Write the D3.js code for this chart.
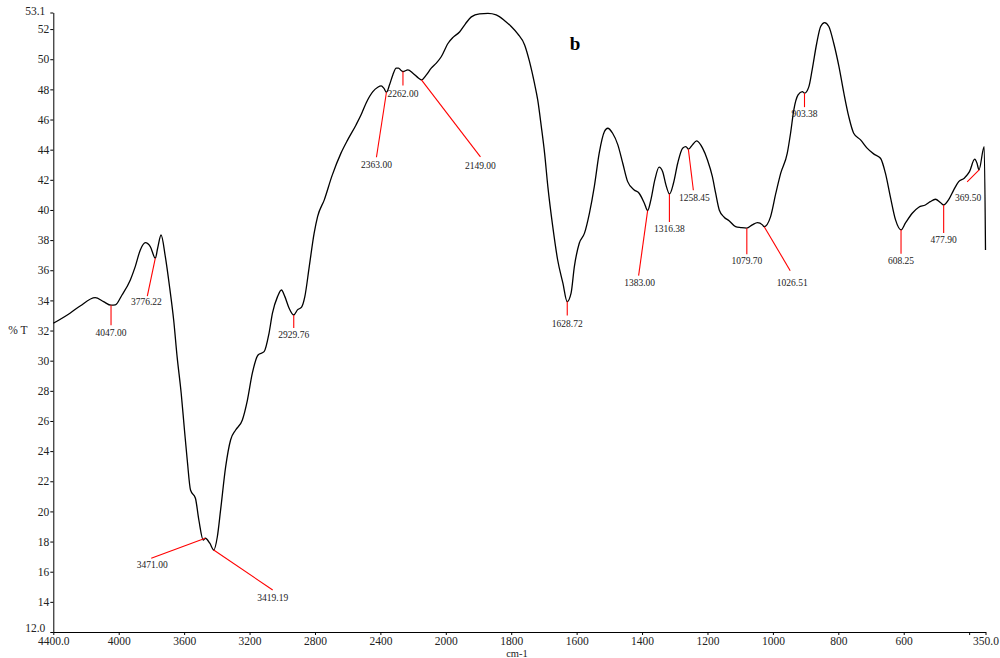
<!DOCTYPE html>
<html>
<head>
<meta charset="utf-8">
<script src="https://cdn.jsdelivr.net/npm/d3@7"></script>
<style>
  body { margin: 0; background: #fff; }
  svg { display: block; font-family: "Liberation Serif", "Times New Roman", serif; }
  .axis path, .axis line { stroke: #000; stroke-width: 1; }
  .axis text { font-size: 11.5px; fill: #222; font-family: "Liberation Serif", serif; }
  .spectrum { fill: none; stroke: #000; stroke-width: 1.3; }
  .peak-line { stroke: #f00; stroke-width: 1.1; }
  .peak-label { font-size: 9.5px; fill: #222; text-anchor: middle; dominant-baseline: central; }
</style>
</head>
<body>
<div id="chart"></div>
<script>
// spectrum (cm-1, %T)
const wavenumber = [
  4400, 4298, 4236, 4144, 4093, 4047, 4021, 3980, 3929, 3899,
  3868, 3837, 3807, 3776, 3762, 3741, 3715, 3688, 3664, 3643,
  3618, 3598, 3581, 3561, 3531, 3510, 3483, 3471, 3443, 3419,
  3397, 3377, 3346, 3316, 3285, 3244, 3213, 3183, 3148, 3111,
  3081, 3060, 3029, 3005, 2984, 2958, 2930, 2907, 2882, 2862,
  2835, 2805, 2784, 2743, 2696, 2641, 2600, 2549, 2518, 2487,
  2446, 2416, 2395, 2379, 2363, 2344, 2324, 2303, 2289, 2273,
  2262, 2232, 2201, 2166, 2149, 2119, 2089, 2058, 2027, 1993,
  1978, 1958, 1940, 1922, 1897, 1871, 1846, 1820, 1800, 1780,
  1759, 1744, 1729, 1719, 1708, 1698, 1688, 1673, 1658, 1642,
  1629, 1617, 1607, 1592, 1576, 1561, 1546, 1531, 1515, 1505,
  1490, 1474, 1459, 1444, 1424, 1409, 1393, 1383, 1373, 1361,
  1348, 1337, 1327, 1316, 1304, 1291, 1276, 1266, 1258, 1246,
  1233, 1215, 1200, 1185, 1175, 1164, 1149, 1134, 1114, 1098,
  1080, 1063, 1047, 1032, 1027, 1007, 991, 976, 956, 946,
  936, 923, 910, 903, 890, 880, 866, 854, 842, 829,
  814, 798, 783, 768, 753, 732, 712, 692, 671, 656,
  641, 625, 608, 595, 574, 554, 534, 519, 503, 488,
  478, 463, 447, 432, 415, 399, 383, 376, 370, 354,
  350
];
const transmittance = [
  32.48, 33.15, 33.63, 34.18, 33.92, 33.68, 33.70, 34.36, 35.36, 36.24,
  37.35, 37.83, 37.57, 36.80, 37.46, 38.34, 36.90, 34.81, 32.70, 30.27,
  27.84, 25.40, 23.41, 21.42, 20.87, 19.43, 18.10, 18.22, 17.89, 17.44,
  18.32, 20.10, 22.97, 24.74, 25.40, 26.07, 27.39, 29.17, 30.38, 30.60,
  31.82, 33.15, 34.25, 34.69, 34.25, 33.48, 33.03, 33.37, 33.55, 34.25,
  36.24, 38.46, 39.56, 40.67, 42.26, 43.77, 44.65, 45.64, 46.31, 47.10,
  47.85, 48.14, 48.23, 48.08, 47.81, 48.30, 48.96, 49.41, 49.41, 49.25,
  49.18, 49.29, 49.07, 48.74, 48.63, 48.96, 49.41, 49.74, 50.18, 51.06,
  51.45, 51.81, 52.35, 52.81, 53.01, 53.04, 52.94, 52.56, 52.17, 51.68,
  50.95, 49.84, 48.41, 47.30, 45.53, 43.77, 41.55, 38.89, 36.68, 35.14,
  33.92, 34.48, 36.24, 37.79, 38.46, 39.78, 41.55, 43.77, 45.20, 45.42,
  45.09, 44.32, 43.10, 41.88, 41.33, 41.11, 40.45, 39.96, 40.67, 41.99,
  42.84, 42.54, 41.66, 41.06, 41.77, 43.10, 44.10, 44.20, 44.03, 44.32,
  44.58, 44.10, 43.32, 42.21, 41.11, 40.00, 39.52, 39.29, 38.89, 38.83,
  38.79, 39.01, 39.16, 39.01, 38.89, 39.56, 41.11, 42.44, 43.77, 45.09,
  46.64, 47.63, 47.85, 47.75, 48.18, 49.29, 51.06, 52.17, 52.43, 52.17,
  51.06, 49.51, 47.75, 46.19, 45.09, 44.65, 44.10, 43.72, 43.43, 42.44,
  40.89, 39.34, 38.68, 39.12, 39.78, 40.18, 40.33, 40.55, 40.71, 40.49,
  40.33, 40.67, 41.33, 41.88, 42.11, 42.54, 43.37, 43.10, 42.66, 44.20,
  37.35
];

// marked peaks
const peakWavenumbers = [4047.00, 3776.22, 3471.00, 3419.19, 2929.76, 2363.00, 2262.00, 2149.00,
  1628.72, 1383.00, 1316.38, 1258.45, 1079.70, 1026.51, 903.38, 608.25, 477.90, 369.50];

// axis ticks
const xTickValues = [4400, 4000, 3600, 3200, 2800, 2400, 2000, 1800, 1600, 1400, 1200, 1000, 800, 600, 400, 350];
const yTickValues = [12, 14, 16, 18, 20, 22, 24, 26, 28, 30, 32, 34, 36, 38, 40, 42, 44, 46, 48, 50, 52, 53.1];

// label placement, px relative to the peak point on the curve
const leaderEnds = [[0, 20], [-8, 38], [-54, 20], [59, 40], [0, 13], [-10, 65], [0, 14], [59, 77], [0, 14],
  [-9, 65], [0, 28], [5, 41], [0, 26], [26, 44], [0, 14], [0, 24], [0, 28], [-12, 12]];
const labelOffsets = [[0, 28], [-9, 44], [-53, 27], [59, 48], [0, 20], [-10, 73], [0, 22], [59, 86], [0, 22],
  [-8, 72], [0, 35], [6, 49], [0, 33], [28, 56], [0, 21], [0, 31], [0, 35], [-11, 28]];

const W = 1000, H = 658;
const margin = { left: 53.3, right: 985.5, top: 12.5, bottom: 632 };

const svg = d3.select('#chart').append('svg')
  .attr('width', W)
  .attr('height', H);

// the instrument changes x scale at 2000 cm-1 (400 per division above, 200 below)
const split = margin.left + (margin.right - margin.left) * 6 / 14.25;
const x = d3.scaleLinear()
  .domain([4400, 2000, 350])
  .range([margin.left, split, margin.right]);

const y = d3.scaleLinear()
  .domain([12, 53.1])
  .range([margin.bottom, margin.top]);

// x axis
svg.append('g')
  .attr('class', 'axis')
  .attr('transform', `translate(0,${margin.bottom})`)
  .call(d3.axisBottom(x)
    .tickValues(xTickValues)
    .tickSize(3)
    .tickSizeOuter(0)
    .tickPadding(2)
    .tickFormat(d => (d === 4400 || d === 350) ? d.toFixed(1) : (d === 400 ? '' : d)));

// y axis
const yAxis = svg.append('g')
  .attr('class', 'axis')
  .attr('transform', `translate(${margin.left},0)`)
  .call(d3.axisLeft(y)
    .tickValues(yTickValues)
    .tickSize(3)
    .tickSizeOuter(0)
    .tickPadding(1)
    .tickFormat(d => (d === 12 || d === 53.1) ? d.toFixed(1) : d));

// end labels sit a bit further out and higher
yAxis.selectAll('.tick text')
  .filter(d => d === 12 || d === 53.1)
  .attr('dx', -4)
  .attr('dy', d => d === 12 ? '-0.05em' : '0.15em');

svg.append('text')
  .attr('x', 18)
  .attr('y', y(32))
  .attr('dy', '0.32em')
  .attr('text-anchor', 'middle')
  .style('font-size', '11.5px')
  .style('fill', '#222')
  .text('% T');

svg.append('text')
  .attr('x', 517)
  .attr('y', 653.5)
  .attr('dy', '0.32em')
  .attr('text-anchor', 'middle')
  .style('font-size', '10.5px')
  .style('fill', '#222')
  .text('cm-1');

svg.append('text')
  .attr('x', 575)
  .attr('y', 43)
  .attr('dy', '0.35em')
  .attr('text-anchor', 'middle')
  .style('font-size', '19px')
  .style('font-weight', 'bold')
  .text('b');

// spectrum
const points = wavenumber.map((w, i) => [w, transmittance[i]]);
const line = d3.line()
  .x(d => x(d[0]))
  .y(d => y(d[1]))
  .curve(d3.curveMonotoneX);

svg.append('path')
  .datum(points)
  .attr('class', 'spectrum')
  .attr('d', line);

// peak annotations
const peaks = peakWavenumbers.map((w, i) => {
  const p = d3.least(points, q => Math.abs(q[0] - w));
  return { w, t: p[1], end: leaderEnds[i], off: labelOffsets[i] };
});

const ann = svg.append('g');
ann.selectAll('line')
  .data(peaks)
  .enter()
  .append('line')
  .attr('class', 'peak-line')
  .attr('x1', d => x(d.w))
  .attr('y1', d => y(d.t))
  .attr('x2', d => x(d.w) + d.end[0])
  .attr('y2', d => y(d.t) + d.end[1]);

ann.selectAll('text')
  .data(peaks)
  .enter()
  .append('text')
  .attr('class', 'peak-label')
  .attr('x', d => x(d.w) + d.off[0])
  .attr('y', d => y(d.t) + d.off[1])
  .text(d => d.w.toFixed(2));
</script>
</body>
</html>
